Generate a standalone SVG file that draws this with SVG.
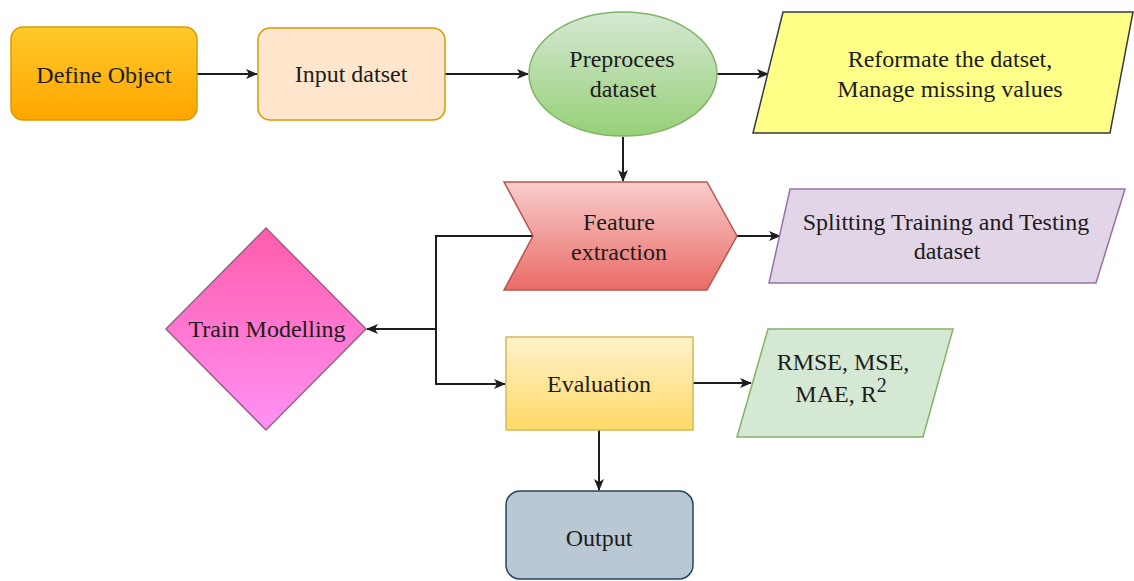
<svg xmlns="http://www.w3.org/2000/svg" width="1134" height="581" viewBox="0 0 1134 581">
  <style>
    .lbl { font-family: "Liberation Serif", "Times New Roman", Times, "Nimbus Roman", "DejaVu Serif", serif; font-size: 24px; fill: #1c1c1c; text-anchor: middle; }
    .edge { fill: none; stroke: #1e1e1e; stroke-width: 2; }
    .node { stroke-width: 1.5; }
  </style>
  <defs>
    <linearGradient id="gOrange" x1="0" y1="0" x2="0" y2="1">
      <stop offset="0" stop-color="#ffca2a"/>
      <stop offset="1" stop-color="#ffa500"/>
    </linearGradient>
    <linearGradient id="gGreen" x1="0" y1="0" x2="0" y2="1">
      <stop offset="0" stop-color="#d5e8d4"/>
      <stop offset="1" stop-color="#97d077"/>
    </linearGradient>
    <linearGradient id="gRed" x1="0" y1="0" x2="0" y2="1">
      <stop offset="0" stop-color="#f8cecc"/>
      <stop offset="1" stop-color="#ea6b66"/>
    </linearGradient>
    <linearGradient id="gPink" x1="0" y1="0" x2="0" y2="1">
      <stop offset="0" stop-color="#ff5caa"/>
      <stop offset="1" stop-color="#ff92f6"/>
    </linearGradient>
    <linearGradient id="gYellow" x1="0" y1="0" x2="0" y2="1">
      <stop offset="0" stop-color="#fff2cc"/>
      <stop offset="1" stop-color="#ffd966"/>
    </linearGradient>
    <marker id="arrow" viewBox="0 0 12 10" refX="11" refY="5" markerWidth="12" markerHeight="10" markerUnits="userSpaceOnUse" orient="auto">
      <path d="M0,0 L12,5 L0,10 L3,5 Z" fill="#1e1e1e"/>
    </marker>
  </defs>

  <rect width="1134" height="581" fill="#ffffff"/>

  <!-- connectors -->
  <g id="connectors">
    <line class="edge" x1="197" y1="74" x2="257" y2="74" marker-end="url(#arrow)"/>
    <line class="edge" x1="445" y1="74" x2="528" y2="74" marker-end="url(#arrow)"/>
    <line class="edge" x1="717" y1="74" x2="768" y2="74" marker-end="url(#arrow)"/>
    <line class="edge" x1="623" y1="137" x2="623" y2="181" marker-end="url(#arrow)"/>
    <line class="edge" x1="737" y1="236" x2="780" y2="236" marker-end="url(#arrow)"/>
    <polyline class="edge" points="533,236 436,236 436,384 505,384" marker-end="url(#arrow)"/>
    <line class="edge" x1="436" y1="329" x2="367" y2="329" marker-end="url(#arrow)"/>
    <line class="edge" x1="693" y1="383" x2="751" y2="383" marker-end="url(#arrow)"/>
    <line class="edge" x1="599" y1="430" x2="599" y2="490" marker-end="url(#arrow)"/>
  </g>

  <g id="define-object">
    <rect class="node" x="11" y="27" width="186" height="93" rx="12" fill="url(#gOrange)" stroke="#d79b00"/>
    <text class="lbl" x="104" y="83">Define Object</text>
  </g>

  <g id="input-dataset">
    <rect class="node" x="258" y="28" width="187" height="92" rx="12" fill="#ffe6cc" stroke="#d79b00"/>
    <text class="lbl" x="351" y="82">Input datset</text>
  </g>

  <g id="preprocess">
    <ellipse class="node" cx="623" cy="74" rx="94" ry="62" fill="url(#gGreen)" stroke="#82b366"/>
    <text class="lbl" x="622" y="67">Preprocees</text>
    <text class="lbl" x="623" y="97">dataset</text>
  </g>

  <g id="reformat">
    <polygon class="node" points="783,12 1133,12 1110,133 753,133" fill="#ffff88" stroke="#36393d"/>
    <text class="lbl" x="950" y="67">Reformate the datset,</text>
    <text class="lbl" x="950" y="97">Manage missing values</text>
  </g>

  <g id="feature-extraction">
    <polygon class="node" points="504,182 707,182 737,236 707,290 504,290 533,236" fill="url(#gRed)" stroke="#b85450"/>
    <text class="lbl" x="619" y="230">Feature</text>
    <text class="lbl" x="619" y="260">extraction</text>
  </g>

  <g id="splitting">
    <polygon class="node" points="790,189 1125,189 1096,283 769,283" fill="#e1d5e7" stroke="#9673a6"/>
    <text class="lbl" x="946" y="230">Splitting Training and Testing</text>
    <text class="lbl" x="947" y="259">dataset</text>
  </g>

  <g id="train-modelling">
    <polygon class="node" points="266,228 366,329 266,430 166,329" fill="url(#gPink)" stroke="#996185"/>
    <text class="lbl" x="267" y="337">Train Modelling</text>
  </g>

  <g id="evaluation">
    <rect class="node" x="506" y="337" width="187" height="93" fill="url(#gYellow)" stroke="#d6b656"/>
    <text class="lbl" x="599" y="392">Evaluation</text>
  </g>

  <g id="metrics">
    <polygon class="node" points="768,329 953,329 923,437 737,437" fill="#d5e8d4" stroke="#82b366"/>
    <text class="lbl" x="843" y="370">RMSE, MSE,</text>
    <text class="lbl" x="841" y="402">MAE, R<tspan font-size="20" dy="-10">2</tspan></text>
  </g>

  <g id="output">
    <rect class="node" x="506" y="491" width="187" height="88" rx="14" fill="#bac8d3" stroke="#23445d"/>
    <text class="lbl" x="599" y="546">Output</text>
  </g>
</svg>
